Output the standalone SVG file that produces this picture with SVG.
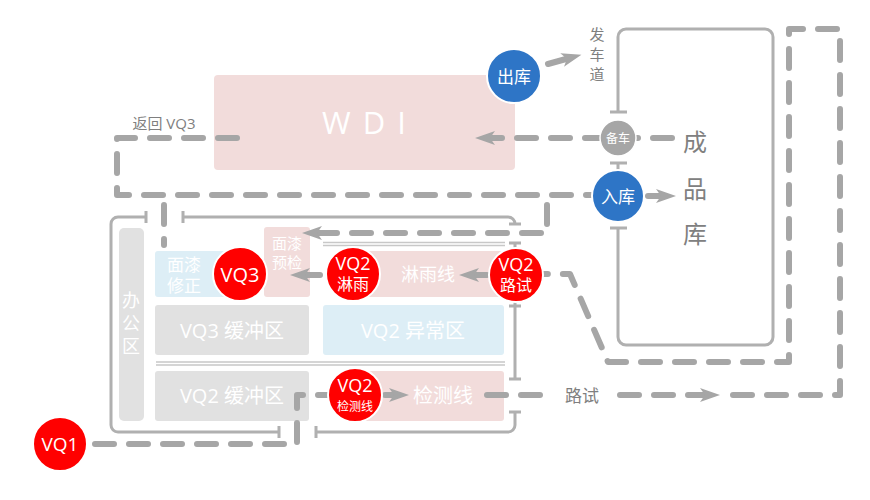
<svg xmlns="http://www.w3.org/2000/svg" width="870" height="500" viewBox="0 0 870 500">
<defs>
<style>
text{font-family:"Open Sans","Noto Sans CJK SC",sans-serif;text-anchor:middle;dominant-baseline:central}
.pink{fill:#F2DCDB}
.blue{fill:#DDEEF6}
.grey{fill:#E1E1E1}
.wt{fill:#FFFFFF}
.gt{fill:#7F7F7F}
.red{fill:#FF0000;stroke:#FFFFFF;stroke-width:2}
.bl{fill:#2E75C6;stroke:#FFFFFF;stroke-width:2}
.wall{fill:none;stroke:#B0B0B0;stroke-width:3;stroke-linecap:butt}
.dbl{fill:none;stroke:#C8C8C8;stroke-width:1.3}
.dash{fill:none;stroke:#A6A6A6;stroke-width:6;stroke-dasharray:19 15;stroke-linecap:round;stroke-linejoin:round}
.solid{fill:none;stroke:#A6A6A6;stroke-width:6;stroke-linecap:round}
</style>
<marker id="ah" markerUnits="userSpaceOnUse" markerWidth="22" markerHeight="16" viewBox="0 -8 22 16" refX="4" refY="0" orient="auto">
<path d="M0,-7 L20,0 L0,7 L5,0 z" fill="#A6A6A6"/>
</marker>
</defs>

<g id="boxes">
<g id="wdi"><rect class="pink" x="214" y="75" width="301" height="95" rx="4"/><text class="wt" x="365" y="122" font-size="31" letter-spacing="2">W D I</text></g>
<g id="office"><rect class="grey" x="119" y="228" width="25" height="193" rx="5"/><text class="wt" font-size="18"><tspan x="131" y="300">办</tspan><tspan x="131" y="323">公</tspan><tspan x="131" y="346">区</tspan></text></g>
<g id="paint-fix"><rect class="blue" x="155" y="251" width="95" height="46" rx="3"/><text class="wt" font-size="17"><tspan x="184" y="264">面漆</tspan><tspan x="184" y="285">修正</tspan></text></g>
<g id="paint-precheck"><rect class="pink" x="264" y="227" width="46" height="70" rx="3"/><text class="wt" font-size="15"><tspan x="287" y="243">面漆</tspan><tspan x="287" y="262">预检</tspan></text></g>
<g id="rain-line"><rect class="pink" x="350" y="251" width="155" height="46" rx="3"/><text class="wt" x="428" y="274" font-size="18">淋雨线</text></g>
<g id="vq3-buffer"><rect class="grey" x="155" y="305" width="154" height="50" rx="3"/><text class="wt" x="232" y="330" font-size="20">VQ3 缓冲区</text></g>
<g id="vq2-abnormal"><rect class="blue" x="323" y="305" width="181" height="50" rx="3"/><text class="wt" x="413" y="330" font-size="20">VQ2 异常区</text></g>
<g id="vq2-buffer"><rect class="grey" x="155" y="371" width="154" height="50" rx="3"/><text class="wt" x="232" y="395" font-size="20">VQ2 缓冲区</text></g>
<g id="test-line"><rect class="pink" x="355" y="371" width="149" height="50" rx="3"/><text class="wt" x="443" y="395" font-size="20">检测线</text></g>
</g>

<g id="walls">
<path class="wall" d="M279,432 H118 A7,7 0 0 1 111,425 V224 A7,7 0 0 1 118,217 H146 M146,211 V223"/>
<path class="wall" d="M183,211 V223 M183,217 H508 A7,7 0 0 1 515,224 M509,224 H521"/>
<path class="wall" d="M509,243 H521 M515,243 V379 M509,306 H521 M509,379 H521"/>
<path class="wall" d="M509,412 H521 M515,412 V425 A7,7 0 0 1 508,432 H316 M316,426 V438 M279,426 V438"/>
<path class="dbl" d="M323,242.5 H505 M323,245.5 H505 M156,362 H505 M156,365 H505"/>
<path class="wall" d="M618,112 V37 A8,8 0 0 1 626,29 H765 A8,8 0 0 1 773,37 V337 A8,8 0 0 1 765,345 H626 A8,8 0 0 1 618,337 V228 M610,112 H627 M610,228 H627 M610,163 H627 M618,163 V176"/>
</g>

<g id="connectors">
<path class="dash" d="M95,444 H297 V395 H330"/>
<path class="solid" d="M385,395 H393" marker-end="url(#ah)"/>
<path class="dash" d="M487,395 H545"/>
<path class="dash" d="M620,395 H704" marker-end="url(#ah)"/>
<path class="dash" d="M733,395 H840 V29 H789 V362 H608 L570,274 H540"/>
<path class="solid" d="M487,275 H475" marker-end="url(#ah)"/>
<path class="solid" d="M320,275 H306" marker-end="url(#ah)"/>
<path class="dash" d="M237,138 H117 V195 H595"/>
<path class="dash" d="M164,205 V245"/>
<path class="dash" d="M547,205 V233 H318" marker-end="url(#ah)"/>
<path class="dash" d="M672,138 H491" marker-end="url(#ah)"/>
<path class="solid" d="M648,196 H660" marker-end="url(#ah)"/>
<path class="solid" d="M548,64 L566,59" marker-end="url(#ah)"/>
</g>

<g id="labels">
<text class="gt" x="164" y="123" font-size="15">返回 VQ3</text>
<text class="gt" font-size="15"><tspan x="597" y="34">发</tspan><tspan x="597" y="54">车</tspan><tspan x="597" y="74">道</tspan></text>
<text class="gt" x="582" y="395" font-size="17">路试</text>
<text fill="#808080" font-size="24"><tspan x="695" y="141">成</tspan><tspan x="695" y="188">品</tspan><tspan x="695" y="233">库</tspan></text>
</g>

<g id="vq1"><circle class="red" cx="60" cy="444" r="27"/><text class="wt" x="60" y="444" font-size="19">VQ1</text></g>
<g id="vq2-test"><circle class="red" cx="355" cy="395" r="27"/><text class="wt" x="355" y="385" font-size="18">VQ2</text><text class="wt" x="355" y="406" font-size="12">检测线</text></g>
<g id="vq2-road"><circle class="red" cx="516" cy="275" r="27"/><text class="wt" x="516" y="264" font-size="18">VQ2</text><text class="wt" x="516" y="285" font-size="16">路试</text></g>
<g id="vq2-rain"><circle class="red" cx="353" cy="274" r="27"/><text class="wt" x="353" y="263" font-size="18">VQ2</text><text class="wt" x="353" y="284" font-size="16">淋雨</text></g>
<g id="vq3"><circle class="red" cx="240" cy="274" r="27"/><text class="wt" x="240" y="274" font-size="20">VQ3</text></g>
<g id="out-store"><circle class="bl" cx="514" cy="76" r="27"/><text class="wt" x="514" y="76" font-size="17">出库</text></g>
<g id="standby"><circle fill="#A6A6A6" stroke="#FFFFFF" stroke-width="1.5" cx="618" cy="138" r="18"/><text class="wt" x="618" y="138" font-size="12">备车</text></g>
<g id="in-store"><circle class="bl" cx="618" cy="196" r="26"/><text class="wt" x="618" y="196" font-size="17">入库</text></g>
</svg>
